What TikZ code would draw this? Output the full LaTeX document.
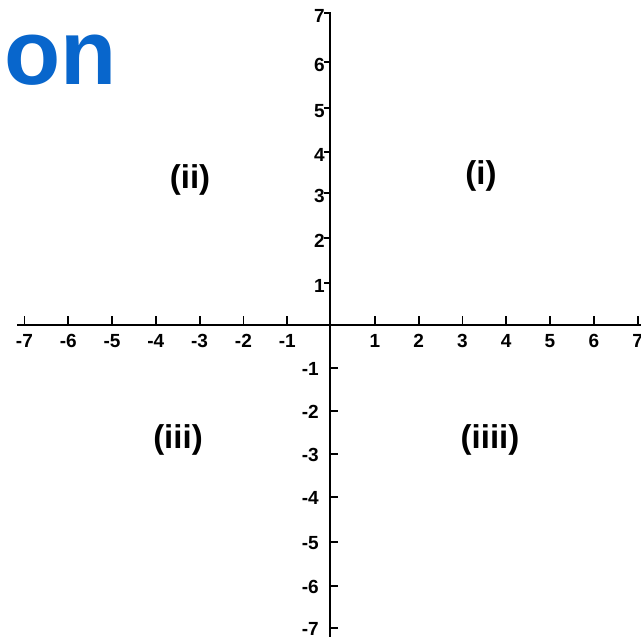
\documentclass[tikz,border=0pt]{standalone}
\usepackage{fontspec}
\setmainfont{Liberation Sans}
\definecolor{titleblue}{HTML}{0866CC}
\begin{document}
\begin{tikzpicture}[x=1pt,y=-1pt,
  axis/.style={line width=2.6pt,black},
  vaxis/.style={line width=2pt,black},
  tick/.style={line width=1.8pt,black},
  ticklabel/.style={font=\bfseries\fontsize{19}{19}\selectfont,inner sep=0pt},
  quad/.style={font=\bfseries\fontsize{33}{33}\selectfont,inner sep=0pt},
  title/.style={font=\bfseries\fontsize{92}{92}\selectfont,text=titleblue,inner sep=0pt,anchor=west}]
\useasboundingbox (0,0) rectangle (641,637);
\fill[white] (0,0) rectangle (641,637);
% axes
\coordinate (xl) at (17,325);
\coordinate (xr) at (641,325);
\coordinate (yt) at (330,12);
\coordinate (yb) at (330,637);
\draw[axis] (xl) -- (xr);
\draw[vaxis] (yt) -- (yb);
% x ticks
\foreach \i in {-7,...,-1,1,2,...,7}{
  \coordinate (xt\i) at ({331+43.8*\i},325);
  \draw[tick] (xt\i) -- ++(0,-9);
  \node[ticklabel] (xlab\i) at ({331+43.8*\i},341) {\i};
}
% y ticks positive
\foreach \i/\yy in {7/13,6/62,5/108,4/152,3/193,2/238,1/283}{
  \coordinate (yt\i) at (330,\yy);
  \draw[tick] (yt\i) -- ++(-6,0);
  \node[ticklabel,anchor=east] (ylab\i) at (325,\yy+3) {\i};
}
% y ticks negative
\foreach \i/\yy in {1/368,2/411,3/454,4/497,5/542,6/586,7/628}{
  \coordinate (ytn\i) at (330,\yy);
  \draw[tick] (ytn\i) -- ++(8,0);
  \node[ticklabel,anchor=east] (ylabn\i) at (319,\yy+1) {-\i};
}
% quadrant labels
\node[quad] (q1) at (481,176) {(i)};
\node[quad] (q2) at (190,180) {(ii)};
\node[quad] (q3) at (178,440) {(iii)};
\node[quad] (q4) at (490,440) {(iiii)};
% title fragment
\node[title] (t) at (4,60) {on};
\end{tikzpicture}
\end{document}
